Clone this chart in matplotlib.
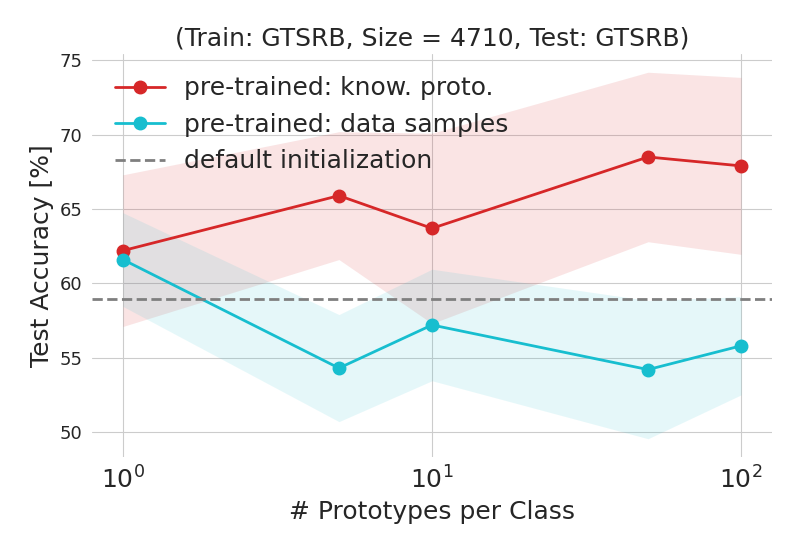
from matplotlib import pyplot as pl
import seaborn as sns
import numpy as np

# number of prototypes per class
protos = [1, 5, 10, 50, 100]

# pre-trained with knowledge prototypes
know_mean = [62.2, 65.9, 63.7, 68.5, 67.9]
know_std = [5.1, 4.3, 6.4, 5.7, 5.95]

# pre-trained with data samples
data_mean = [61.6, 54.3, 57.2, 54.2, 55.8]
data_std = [3.15, 3.6, 3.75, 4.65, 3.3]

# default initialization baseline
default_acc = 58.95

sns.set_style('whitegrid')
pl.rcParams['font.family'] = ['DejaVu Sans']

fig, ax = pl.subplots(figsize=(8, 5.5), dpi=100)
fig.subplots_adjust(left=0.115, right=0.965, top=0.902, bottom=0.169)

know_mean = np.array(know_mean)
know_std = np.array(know_std)
data_mean = np.array(data_mean)
data_std = np.array(data_std)

ax.plot(protos, know_mean, marker='o', markersize=9, linewidth=2,
        color='tab:red', label='pre-trained: know. proto.')
ax.fill_between(protos, know_mean-know_std, know_mean+know_std,
                color='tab:red', alpha=0.12, linewidth=0)

ax.plot(protos, data_mean, marker='o', markersize=9, linewidth=2,
        color='tab:cyan', label='pre-trained: data samples')
ax.fill_between(protos, data_mean-data_std, data_mean+data_std,
                color='tab:cyan', alpha=0.11, linewidth=0)

ax.axhline(default_acc, color='tab:gray', linestyle='--', linewidth=2,
           label='default initialization')

ax.set_xscale('log')
ax.set_yticks([50, 55, 60, 65, 70, 75])
ax.tick_params(axis='x', labelsize=18, colors='.15')
ax.tick_params(axis='y', labelsize=13, colors='.15')

for side in ['left', 'right', 'top', 'bottom']:
    ax.spines[side].set_visible(False)

ax.set_xlabel('# Prototypes per Class', fontsize=18, color='.15')
ax.set_ylabel('Test Accuracy [%]', fontsize=18, color='.15')
ax.set_title('(Train: GTSRB, Size = 4710, Test: GTSRB)', fontsize=18,
             color='.15')

ax.legend(loc='upper left', fontsize=18, frameon=False)

fig.savefig('out.png')
